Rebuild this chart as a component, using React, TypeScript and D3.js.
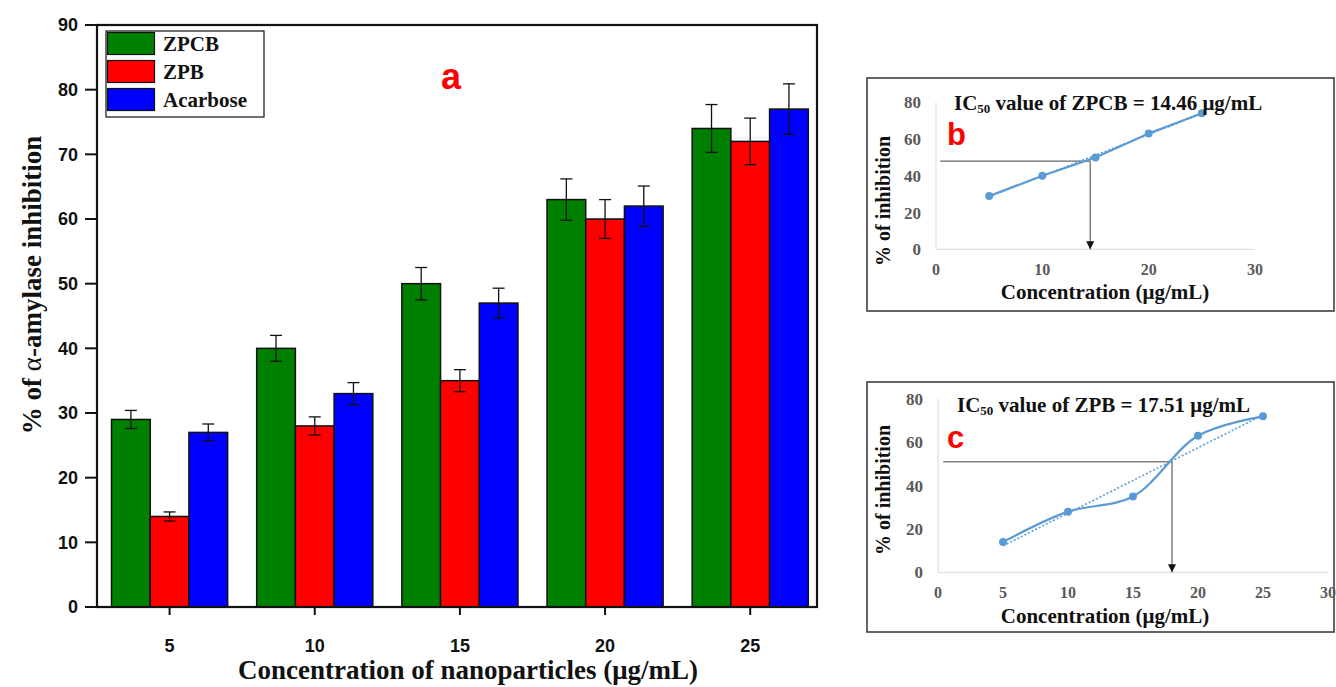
import React from "react";
import * as d3 from "d3";

// ---------- data ----------
const categories = [5, 10, 15, 20, 25];
const seriesNames = ["ZPCB", "ZPB", "Acarbose"];
const seriesColors = ["#008000", "#ff0000", "#0000ff"];
const zpcbValues = [29, 40, 50, 63, 74];
const zpcbErrors = [1.4, 2.0, 2.5, 3.2, 3.7];
const zpbValues = [14, 28, 35, 60, 72];
const zpbErrors = [0.7, 1.4, 1.7, 3.0, 3.6];
const acarboseValues = [27, 33, 47, 62, 77];
const acarboseErrors = [1.3, 1.7, 2.3, 3.1, 3.9];
const mainYTicks = [0, 10, 20, 30, 40, 50, 60, 70, 80, 90];

const icX = [5, 10, 15, 20, 25];
const icZpcb = [29, 40, 50, 63, 74];
const icZpb = [14, 28, 35, 63, 72];
const icYTicks = [0, 20, 40, 60, 80];
const bXTicks = [0, 10, 20, 30];
const cXTicks = [0, 5, 10, 15, 20, 25, 30];
const bGuide = { x: 14.5, y: 48 };
const cGuide = { x: 18, y: 51 };

const SERIF = "'Liberation Serif', 'Times New Roman', serif";
const SANS = "'Liberation Sans', Arial, sans-serif";
const LINE = "#5b9bd5";
const GRAY = "#595959";

function regression(xs: number[], ys: number[]) {
  const mx = d3.mean(xs)!;
  const my = d3.mean(ys)!;
  const num = d3.sum(xs.map((x, i) => (x - mx) * (ys[i] - my)));
  const den = d3.sum(xs.map((x) => (x - mx) * (x - mx)));
  const slope = num / den;
  return { slope, intercept: my - slope * mx };
}

function MainChart() {
  const x = d3.scaleLinear().domain([2.5, 27.3]).range([97, 817]);
  const y = d3.scaleLinear().domain([0, 90]).range([607, 25]);
  const groupW = 4;
  const barW = groupW / 3;
  const series = [
    { v: zpcbValues, e: zpcbErrors },
    { v: zpbValues, e: zpbErrors },
    { v: acarboseValues, e: acarboseErrors },
  ];
  return (
    <g>
      {series.map((s, si) =>
        categories.map((c, ci) => {
          const x0 = x(c - groupW / 2 + si * barW);
          const x1 = x(c - groupW / 2 + (si + 1) * barW);
          const cx = (x0 + x1) / 2;
          const v = s.v[ci];
          const e = s.e[ci];
          return (
            <g key={`${si}-${ci}`}>
              <rect x={x0} y={y(v)} width={x1 - x0} height={y(0) - y(v)} fill={seriesColors[si]} stroke="#111" strokeWidth={1.5} />
              <line x1={cx} x2={cx} y1={y(v + e)} y2={y(v - e)} stroke="#111" strokeWidth={1.3} />
              <line x1={cx - 6} x2={cx + 6} y1={y(v + e)} y2={y(v + e)} stroke="#111" strokeWidth={1.3} />
              <line x1={cx - 6} x2={cx + 6} y1={y(v - e)} y2={y(v - e)} stroke="#111" strokeWidth={1.3} />
            </g>
          );
        })
      )}
      <rect x={97} y={25} width={720} height={582} fill="none" stroke="#111" strokeWidth={2.2} />
      {mainYTicks.map((t) => (
        <g key={t}>
          <line x1={85} x2={97} y1={y(t)} y2={y(t)} stroke="#111" strokeWidth={2} />
          <text x={78} y={y(t)} dy="0.36em" textAnchor="end" fontFamily={SANS} fontWeight="bold" fontSize={18} fill="#111">{t}</text>
        </g>
      ))}
      {categories.map((c) => (
        <g key={c}>
          <line x1={x(c)} x2={x(c)} y1={607} y2={615} stroke="#111" strokeWidth={2} />
          <text x={x(c)} y={652} textAnchor="middle" fontFamily={SANS} fontWeight="bold" fontSize={18} fill="#111">{c}</text>
        </g>
      ))}
      <text x={468} y={679} textAnchor="middle" fontFamily={SERIF} fontWeight="bold" fontSize={27} fill="#111">
        Concentration of nanoparticles (μg/mL)
      </text>
      <text transform="translate(41,285) rotate(-90)" textAnchor="middle" fontFamily={SERIF} fontWeight="bold" fontSize={27} fill="#111">
        % of <tspan fontWeight="normal">α</tspan>-amylase inhibition
      </text>
      {/* legend */}
      <rect x={106} y={31} width={158} height={86} fill="#fff" stroke="#111" strokeWidth={1.2} />
      {seriesNames.map((n, i) => (
        <g key={n}>
          <rect x={107.5} y={32.5 + i * 28} width={47} height={22} fill={seriesColors[i]} stroke="#111" strokeWidth={1.2} />
          <text x={163} y={51 + i * 28} fontFamily={SERIF} fontWeight="bold" fontSize={21} fill="#111">{n}</text>
        </g>
      ))}
      <text x={451} y={89} textAnchor="middle" fontFamily={SANS} fontWeight="bold" fontSize={36} fill="#ff0000">a</text>
    </g>
  );
}

function ICPanel(props: {
  box: [number, number, number, number];
  xr: [number, number];
  yr: [number, number];
  xTicks: number[];
  xs: number[];
  ys: number[];
  smooth: boolean;
  guide: { x: number; y: number };
  compound: string;
  ic50: string;
  letter: string;
  titleX: number;
  titleY: number;
  letterY: number;
  xLabelY: number;
  xTitleY: number;
  yTitleCenter: number;
  arrowId: string;
}) {
  const { box, xr, yr, xTicks, xs, ys, smooth, guide } = props;
  const x = d3.scaleLinear().domain([0, 30]).range(xr);
  const y = d3.scaleLinear().domain([0, 80]).range(yr);
  const pts: [number, number][] = xs.map((v, i) => [v, ys[i]]);
  const line = d3
    .line<[number, number]>()
    .x((d) => x(d[0]))
    .y((d) => y(d[1]))
    .curve(smooth ? d3.curveCatmullRom.alpha(0.5) : d3.curveLinear);
  const reg = regression(xs, ys);
  const x0 = xs[0];
  const x1 = xs[xs.length - 1];
  return (
    <g>
      <defs>
        <marker id={props.arrowId} viewBox="0 0 10 10" refX={10} refY={5} markerWidth={8} markerHeight={8} markerUnits="userSpaceOnUse" orient="auto">
          <path d="M0,0 L10,5 L0,10 Z" fill="#111" />
        </marker>
      </defs>
      <rect x={box[0]} y={box[1]} width={box[2]} height={box[3]} fill="#fff" stroke="#333" strokeWidth={1.5} />
      <line x1={xr[0]} x2={xr[0]} y1={yr[1]} y2={yr[0]} stroke="#d9d9d9" strokeWidth={1} />
      <line x1={xr[0]} x2={xr[1]} y1={yr[0]} y2={yr[0]} stroke="#d9d9d9" strokeWidth={1} />
      {icYTicks.map((t) => (
        <text key={t} x={xr[0] - 15} y={y(t)} dy="0.35em" textAnchor="end" fontFamily={SERIF} fontWeight="bold" fontSize={17} fill={GRAY}>{t}</text>
      ))}
      {xTicks.map((t) => (
        <text key={t} x={x(t)} y={props.xLabelY} textAnchor="middle" fontFamily={SERIF} fontWeight="bold" fontSize={16} fill={GRAY}>{t}</text>
      ))}
      <text x={1105} y={props.xTitleY} textAnchor="middle" fontFamily={SERIF} fontWeight="bold" fontSize={21} fill="#111">Concentration (μg/mL)</text>
      <text transform={`translate(890,${props.yTitleCenter}) rotate(-90)`} textAnchor="middle" fontFamily={SERIF} fontWeight="bold" fontSize={20} fill="#111">% of inhibition</text>
      {/* guide lines */}
      <line x1={x(0.4)} x2={x(guide.x)} y1={y(guide.y)} y2={y(guide.y)} stroke="#404040" strokeWidth={1} />
      <line x1={x(guide.x)} x2={x(guide.x)} y1={y(guide.y)} y2={y(0)} stroke="#404040" strokeWidth={1} markerEnd={`url(#${props.arrowId})`} />
      {/* trend line */}
      <line x1={x(x0)} x2={x(x1)} y1={y(reg.intercept + reg.slope * x0)} y2={y(reg.intercept + reg.slope * x1)} stroke={LINE} strokeWidth={1.6} strokeDasharray="2,2" />
      <path d={line(pts) || ""} fill="none" stroke={LINE} strokeWidth={2.2} />
      {pts.map((p, i) => (
        <circle key={i} cx={x(p[0])} cy={y(p[1])} r={4} fill={LINE} />
      ))}
      <text x={props.titleX} y={props.titleY} fontFamily={SERIF} fontWeight="bold" fontSize={21} fill="#111">
        IC<tspan fontSize={13} dy={3}>50</tspan>
        <tspan dy={-3}> value of {props.compound} = {props.ic50} μg/mL</tspan>
      </text>
      <text x={947} y={props.letterY} fontFamily={SANS} fontWeight="bold" fontSize={31} fill="#ff0000">{props.letter}</text>
    </g>
  );
}

export default function App() {
  return (
    <svg width={1336} height={687} style={{ position: "absolute", left: 0, top: 0, background: "#fff" }}>
      <rect x={0} y={0} width={1336} height={687} fill="#fff" />
      <MainChart />
      <ICPanel
        box={[867, 78, 467, 233]}
        xr={[936, 1255]}
        yr={[249.3, 102.3]}
        xTicks={bXTicks}
        xs={icX}
        ys={icZpcb}
        smooth={false}
        guide={bGuide}
        compound="ZPCB"
        ic50="14.46"
        letter="b"
        titleX={954}
        titleY={110}
        letterY={145}
        xLabelY={275}
        xTitleY={299}
        yTitleCenter={201}
        arrowId="arrB"
      />
      <ICPanel
        box={[867, 382, 467, 250]}
        xr={[938, 1328]}
        yr={[572.3, 399]}
        xTicks={cXTicks}
        xs={icX}
        ys={icZpb}
        smooth={true}
        guide={cGuide}
        compound="ZPB"
        ic50="17.51"
        letter="c"
        titleX={957}
        titleY={412}
        letterY={448}
        xLabelY={598}
        xTitleY={623}
        yTitleCenter={490}
        arrowId="arrC"
      />
    </svg>
  );
}
